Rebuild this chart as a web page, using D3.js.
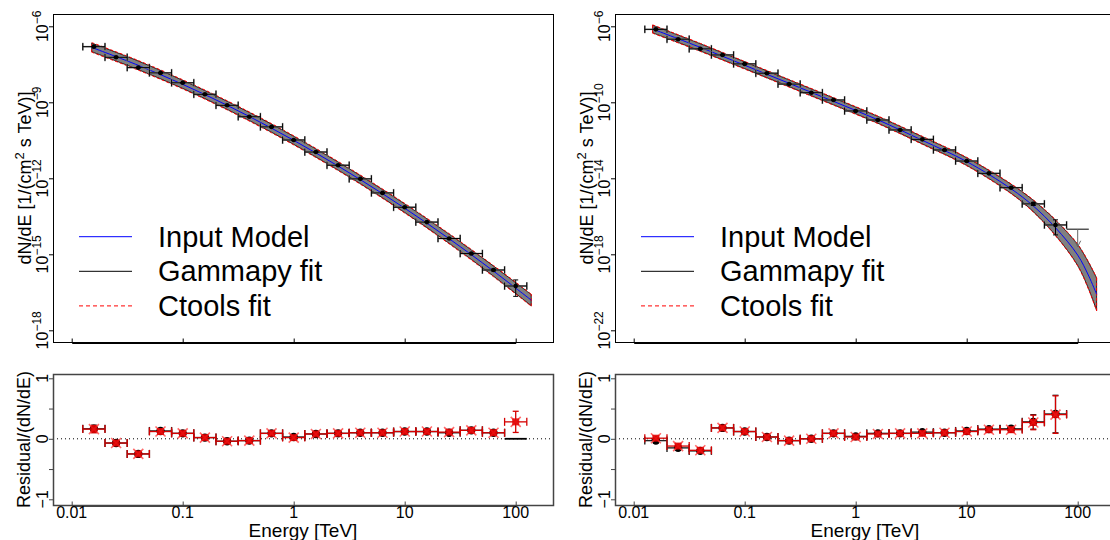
<!DOCTYPE html>
<html>
<head>
<meta charset="utf-8">
<script src="https://cdn.jsdelivr.net/npm/d3@7/dist/d3.min.js"></script>
<style>
  body { margin: 0; background: #fff; }
  svg { display: block; font-family: "Liberation Sans", Arial, sans-serif; }
</style>
</head>
<body>
<svg id="chart" width="1110" height="540"></svg>
<script>
// ---------------- data ----------------
// Energy bins (TeV): 5 per decade
const energies = [0.01585, 0.02512, 0.03981, 0.0631, 0.1, 0.1585, 0.2512, 0.3981, 0.631, 1,
                  1.585, 2.512, 3.981, 6.31, 10, 15.85, 25.12, 39.81, 63.1, 100];
const binEdges = [0.01259, 0.01995, 0.03162, 0.05012, 0.07943, 0.1259, 0.1995, 0.3162, 0.5012, 0.7943,
                  1.259, 1.995, 3.162, 5.012, 7.943, 12.59, 19.95, 31.62, 50.12, 79.43, 125.9];
const xTicks = [0.01, 0.1, 1, 10, 100];
const xTickLabels = ["0.01", "0.1", "1", "10", "100"];
const residualTicks = [-1, -0.5, 0, 0.5, 1];
const residualTickLabels = [-1, 0, 1];
const legendLabels = ["Input Model", "Gammapy fit", "Ctools fit"];

// Left: log-parabola source
const fluxLP = [1.57e-7, 5.97e-8, 2.34e-8, 1.45e-8, 5.89e-9, 2.07e-9, 7.6e-10, 2.69e-10, 1.07e-10, 3.25e-11,
                1.09e-11, 3.28e-12, 9.5e-13, 2.65e-13, 7.2e-14, 1.87e-14, 4.2e-15, 1.07e-15, 2.40e-16, 5.6e-17];
const fluxErrUpLP = [0.03, 0.03, 0.03, 0.03, 0.03, 0.03, 0.03, 0.03, 0.03, 0.03,
                     0.03, 0.03, 0.03, 0.03, 0.03, 0.03, 0.04, 0.05, 0.08, 0.74];
const fluxErrDownLP = [0.03, 0.03, 0.03, 0.03, 0.03, 0.03, 0.03, 0.03, 0.03, 0.03,
                       0.03, 0.03, 0.03, 0.03, 0.03, 0.03, 0.04, 0.05, 0.08, 0.61];
const modelEnergyLP = [0.01514, 0.0398, 0.1, 0.2512, 0.631, 1.585, 3.981, 10, 25.12, 63.1, 138];
const modelFluxLP = [1.47e-7, 2.88e-8, 5.11e-9, 7.62e-10, 9.53e-11, 1.0e-11, 8.89e-13, 6.61e-14, 4.13e-15, 2.17e-16, 1.55e-17];
const bandDexLP = [0.17, 0.17, 0.16, 0.16, 0.16, 0.16, 0.16, 0.17, 0.18, 0.20, 0.22];
const yTicksLP = [1e-6, 1e-9, 1e-12, 1e-15, 1e-18];
// residuals; null = no Gammapy point in that bin
const residGammapyLP = [0.165, -0.07, -0.25, 0.13, 0.09, 0.02, -0.04, -0.03, 0.09, 0.03,
                        0.08, 0.09, 0.10, 0.10, 0.12, 0.12, 0.10, 0.14, 0.10, null];
const residCtoolsLP = [0.16, -0.07, -0.25, 0.12, 0.09, 0.02, -0.04, -0.03, 0.09, 0.02,
                       0.08, 0.09, 0.10, 0.10, 0.12, 0.12, 0.11, 0.14, 0.10, 0.28];
const residErrLP = [0.06, 0.04, 0.03, 0.04, 0.03, 0.03, 0.03, 0.03, 0.03, 0.03,
                    0.03, 0.03, 0.03, 0.03, 0.03, 0.03, 0.03, 0.04, 0.04, 0.175];

// Right: power law with exponential cutoff
const fluxEC = [6.9e-7, 2.1e-7, 6.5e-8, 3.1e-8, 1.05e-8, 3.4e-9, 9.1e-10, 3.2e-10, 1.32e-10, 3.5e-11,
                1.17e-11, 3.5e-12, 1.12e-12, 3.1e-13, 8.1e-14, 1.82e-14, 3.2e-15, 4.5e-16, 3.5e-17];
const fluxErrUpEC = [0.03, 0.03, 0.03, 0.03, 0.03, 0.03, 0.03, 0.03, 0.03, 0.03,
                     0.03, 0.03, 0.03, 0.03, 0.03, 0.04, 0.06, 0.2, 0.86];
const fluxErrDownEC = [0.03, 0.03, 0.03, 0.03, 0.03, 0.03, 0.03, 0.03, 0.03, 0.03,
                       0.03, 0.03, 0.03, 0.03, 0.03, 0.04, 0.06, 0.17, 0.70];
const upperLimitEC = { energy: 100, lo: 79.43, hi: 125.9, flux: 2.1e-17, arrowTip: 2.5e-18 };
const modelEnergyEC = [0.0148, 0.0398, 0.1, 0.2512, 0.631, 1.585, 3.981, 10, 25.12, 39.81, 63.1, 100, 125.9, 148];
const modelFluxEC = [7.2e-7, 7.8e-8, 8.9e-9, 1.0e-9, 1.12e-10, 1.2e-11, 1.0e-12, 7.6e-14, 2.8e-15, 3.5e-16, 2.5e-17, 9.1e-19, 7.1e-20, 7.9e-21];
const bandDexEC = [0.20, 0.19, 0.18, 0.18, 0.18, 0.18, 0.19, 0.20, 0.24, 0.30, 0.40, 0.55, 0.70, 0.85];
const yTicksEC = [1e-6, 1e-10, 1e-14, 1e-18, 1e-22];
const residGammapyEC = [-0.03, -0.15, -0.20, 0.18, 0.12, 0.03, -0.03, 0.0, 0.09, 0.04,
                        0.09, 0.09, 0.11, 0.10, 0.13, 0.16, 0.165, 0.28, 0.41];
const residCtoolsEC = [0.01, -0.12, -0.19, 0.18, 0.12, 0.03, -0.03, 0.0, 0.09, 0.03,
                       0.08, 0.09, 0.09, 0.10, 0.12, 0.15, 0.15, 0.27, 0.40];
const residErrEC = [0.03, 0.03, 0.03, 0.03, 0.03, 0.03, 0.03, 0.03, 0.03, 0.03,
                    0.03, 0.03, 0.03, 0.03, 0.03, 0.03, 0.04, 0.12, 0.31];

// ---------------- layout ----------------
const svg = d3.select("#chart");
const BOX = { left: 53, right: 553, topT: 14, topB: 342, resT: 374, resB: 505 };
const X_RANGE = [71.7, 515.7];
const MINUS = "\u2212";

function errBarX(g, x, y, lo, hi, color, w, cap) {
  g.append("line").attr("x1", x(lo)).attr("x2", x(hi)).attr("y1", y).attr("y2", y)
    .attr("stroke", color).attr("stroke-width", w);
  [lo, hi].forEach(v => g.append("line").attr("x1", x(v)).attr("x2", x(v))
    .attr("y1", y - cap).attr("y2", y + cap).attr("stroke", color).attr("stroke-width", w));
}
function errBarY(g, xp, y1, y2, color, w, cap) {
  g.append("line").attr("x1", xp).attr("x2", xp).attr("y1", y1).attr("y2", y2)
    .attr("stroke", color).attr("stroke-width", w);
  [y1, y2].forEach(v => g.append("line").attr("x1", xp - cap).attr("x2", xp + cap)
    .attr("y1", v).attr("y2", v).attr("stroke", color).attr("stroke-width", w));
}

function drawPanel(offset, p) {
  const g = svg.append("g").attr("transform", `translate(${offset},0)`);
  const x = d3.scaleLog().domain([0.01, 100]).range(X_RANGE);
  const y = d3.scaleLog().domain([p.yTicks[p.yTicks.length - 1], p.yTicks[0]]).range([330.3, 26.3]);
  const r = d3.scaleLinear().domain([-1, 1]).range([499.3, 378.3]);

  // ---- spectrum panel ----
  const band = p.modelEnergy.map((e, i) => ({
    e, f: p.modelFlux[i],
    lo: p.modelFlux[i] * Math.pow(10, -p.bandDex[i]),
    hi: p.modelFlux[i] * Math.pow(10, p.bandDex[i]),
    lo2: p.modelFlux[i] * Math.pow(10, -p.bandDex[i] - 0.02),
    hi2: p.modelFlux[i] * Math.pow(10, p.bandDex[i] + 0.02)
  }));
  const curve = d3.curveCatmullRom;
  g.append("path").datum(band)
    .attr("d", d3.area().x(d => x(d.e)).y0(d => y(d.lo)).y1(d => y(d.hi)).curve(curve))
    .attr("fill", "#808080").attr("stroke", "#000").attr("stroke-width", 0.8);
  ["lo2", "hi2"].forEach(k => g.append("path").datum(band)
    .attr("d", d3.line().x(d => x(d.e)).y(d => y(d[k])).curve(curve))
    .attr("fill", "none").attr("stroke", "#ff0000").attr("stroke-width", 1).attr("stroke-dasharray", "3,2"));
  // band end closures (Ctools)
  [band[0], band[band.length - 1]].forEach(d => g.append("line")
    .attr("x1", x(d.e)).attr("x2", x(d.e)).attr("y1", y(d.lo2)).attr("y2", y(d.hi2))
    .attr("stroke", "#ff0000").attr("stroke-width", 1).attr("stroke-dasharray", "3,2"));
  g.append("path").datum(band)
    .attr("d", d3.line().x(d => x(d.e)).y(d => y(d.f)).curve(curve))
    .attr("fill", "none").attr("stroke", "#0000ff").attr("stroke-width", 1);

  // flux points
  p.flux.forEach((f, i) => {
    const yp = y(f), xp = x(energies[i]);
    errBarX(g, x, yp, binEdges[i], binEdges[i + 1], "#8a8a8a", 1.6, 4);
    errBarX(g, x, yp, binEdges[i], binEdges[i + 1], "#000", 1, 3.5);
    errBarY(g, xp, y(f * (1 + p.fluxErrUp[i])), y(f * (1 - p.fluxErrDown[i])), "#000", 1, 2.5);
    g.append("circle").attr("cx", xp).attr("cy", yp).attr("r", 2.3).attr("fill", "#000");
  });
  if (p.upperLimit) {
    const u = p.upperLimit;
    g.append("line").attr("x1", x(u.lo)).attr("x2", x(u.hi)).attr("y1", y(u.flux)).attr("y2", y(u.flux))
      .attr("stroke", "#000").attr("stroke-width", 1);
    const tipY = y(u.arrowTip), xp = x(u.energy);
    g.append("line").attr("x1", xp).attr("x2", xp).attr("y1", y(u.flux)).attr("y2", tipY)
      .attr("stroke", "#666").attr("stroke-width", 1);
    g.append("path").attr("d", `M${xp - 3},${tipY - 6}L${xp},${tipY}L${xp + 3},${tipY - 6}`)
      .attr("fill", "none").attr("stroke", "#666").attr("stroke-width", 1);
  }

  // frame
  g.append("rect").attr("x", BOX.left + 0.5).attr("y", BOX.topT + 0.5)
    .attr("width", BOX.right - BOX.left).attr("height", BOX.topB - BOX.topT)
    .attr("fill", "none").attr("stroke", "#000").attr("stroke-width", 1);

  // y axis
  const ya = g.append("g").attr("transform", `translate(${BOX.left},0)`)
    .call(d3.axisLeft(y).tickValues(p.yTicks).tickFormat("").tickSizeInner(4).tickSizeOuter(0));
  ya.selectAll("path,line").attr("stroke", "#000");
  p.yTicks.forEach(v => {
    const t = g.append("text").attr("transform", `translate(48,${y(v)}) rotate(-90)`)
      .attr("text-anchor", "middle").attr("font-size", 16).attr("fill", "#000");
    t.append("tspan").text("10");
    t.append("tspan").attr("dy", -7).attr("font-size", 12).text(MINUS + Math.abs(Math.round(Math.log10(v))));
  });
  const yt = g.append("text").attr("transform", `translate(31,${(BOX.topT + BOX.topB) / 2}) rotate(-90)`)
    .attr("text-anchor", "middle").attr("font-size", 18).attr("fill", "#000");
  yt.append("tspan").text("dN/dE [1/(cm");
  yt.append("tspan").attr("dy", -7).attr("font-size", 13).text("2");
  yt.append("tspan").attr("dy", 7).text(" s TeV)]");

  // x axis (no labels) on spectrum panel
  const xa = g.append("g").attr("transform", `translate(0,${BOX.topB + 0.5})`)
    .call(d3.axisBottom(x).tickValues(xTicks).tickFormat("").tickSizeInner(-4).tickSizeOuter(0));
  xa.select(".domain").attr("stroke", "#000").attr("stroke-width", 2);
  xa.selectAll(".tick line").attr("stroke", "#000");

  // legend
  const lg = g.append("g");
  const legendStyles = [
    { color: "#0000ff", dash: null },
    { color: "#000", dash: null },
    { color: "#ff0000", dash: "4,3" }
  ];
  legendLabels.forEach((lab, i) => {
    const ly = 236.7 + i * 34.6;
    lg.append("line").attr("x1", 79).attr("x2", 132).attr("y1", ly).attr("y2", ly)
      .attr("stroke", legendStyles[i].color).attr("stroke-width", 1)
      .attr("stroke-dasharray", legendStyles[i].dash);
    lg.append("text").attr("x", 158).attr("y", ly + 10).attr("font-size", 29).attr("fill", "#000").text(lab);
  });

  // ---- residual panel ----
  g.append("line").attr("x1", BOX.left).attr("x2", BOX.right).attr("y1", r(0)).attr("y2", r(0))
    .attr("stroke", "#000").attr("stroke-width", 1).attr("stroke-dasharray", "1,3");

  p.residGammapy.forEach((v, i) => {
    if (v === null) {
      g.append("line").attr("x1", x(binEdges[i])).attr("x2", x(binEdges[i + 1]))
        .attr("y1", r(0)).attr("y2", r(0)).attr("stroke", "#000").attr("stroke-width", 1.8);
      return;
    }
    const yp = r(v), xp = x(energies[i]);
    errBarX(g, x, yp, binEdges[i], binEdges[i + 1], "#222", 1.4, 4);
    errBarY(g, xp, r(v + p.residErr[i]), r(v - p.residErr[i]), "#222", 1.2, 3);
    g.append("circle").attr("cx", xp).attr("cy", yp).attr("r", 4.2).attr("fill", "#000");
  });
  p.residCtools.forEach((v, i) => {
    const yp = r(v), xp = x(energies[i]);
    errBarX(g, x, yp, binEdges[i], binEdges[i + 1], "#d40000", 1.3, 4);
    errBarY(g, xp, r(v + p.residErr[i]), r(v - p.residErr[i]), "#d40000", 1.3, 3);
    g.append("path").attr("d", `M${xp - 5},${yp - 5}L${xp + 5},${yp + 5}M${xp - 5},${yp + 5}L${xp + 5},${yp - 5}`)
      .attr("stroke", "#ff6a6a").attr("stroke-width", 1.6).attr("fill", "none");
    g.append("rect").attr("x", xp - 3.5).attr("y", yp - 3.5).attr("width", 7).attr("height", 7)
      .attr("fill", "#e00000").attr("fill-opacity", 0.85);
  });

  g.append("rect").attr("x", BOX.left + 0.5).attr("y", BOX.resT + 0.5)
    .attr("width", BOX.right - BOX.left).attr("height", BOX.resB - BOX.resT)
    .attr("fill", "none").attr("stroke", "#444").attr("stroke-width", 1.5);

  const ra = g.append("g").attr("transform", `translate(${BOX.left},0)`)
    .call(d3.axisLeft(r).tickValues(residualTicks).tickFormat("").tickSizeInner(4).tickSizeOuter(0));
  ra.selectAll("path,line").attr("stroke", "#444");
  residualTickLabels.forEach(v => {
    g.append("text").attr("transform", `translate(48,${r(v)}) rotate(-90)`)
      .attr("text-anchor", "middle").attr("font-size", 16).attr("fill", "#000")
      .text(v < 0 ? MINUS + Math.abs(v) : String(v));
  });
  g.append("text").attr("transform", `translate(30,${(BOX.resT + BOX.resB) / 2}) rotate(-90)`)
    .attr("text-anchor", "middle").attr("font-size", 18).attr("fill", "#000").text("Residual/(dN/dE)");

  const rx = g.append("g").attr("transform", `translate(0,${BOX.resB + 0.5})`)
    .call(d3.axisBottom(x).tickValues(xTicks).tickFormat("").tickSizeInner(-4).tickSizeOuter(0));
  rx.select(".domain").attr("stroke", "#444").attr("stroke-width", 2);
  rx.selectAll(".tick line").attr("stroke", "#444");
  xTicks.forEach((v, i) => g.append("text").attr("x", x(v)).attr("y", 518)
    .attr("text-anchor", "middle").attr("font-size", 16).attr("fill", "#000").text(xTickLabels[i]));
  g.append("text").attr("x", (BOX.left + BOX.right) / 2).attr("y", 537)
    .attr("text-anchor", "middle").attr("font-size", 19).attr("fill", "#000").text("Energy [TeV]");
}

drawPanel(0, {
  flux: fluxLP, fluxErrUp: fluxErrUpLP, fluxErrDown: fluxErrDownLP,
  modelEnergy: modelEnergyLP, modelFlux: modelFluxLP, bandDex: bandDexLP,
  yTicks: yTicksLP, residGammapy: residGammapyLP, residCtools: residCtoolsLP, residErr: residErrLP
});
drawPanel(562, {
  flux: fluxEC, fluxErrUp: fluxErrUpEC, fluxErrDown: fluxErrDownEC, upperLimit: upperLimitEC,
  modelEnergy: modelEnergyEC, modelFlux: modelFluxEC, bandDex: bandDexEC,
  yTicks: yTicksEC, residGammapy: residGammapyEC, residCtools: residCtoolsEC, residErr: residErrEC
});
</script>
</body>
</html>
